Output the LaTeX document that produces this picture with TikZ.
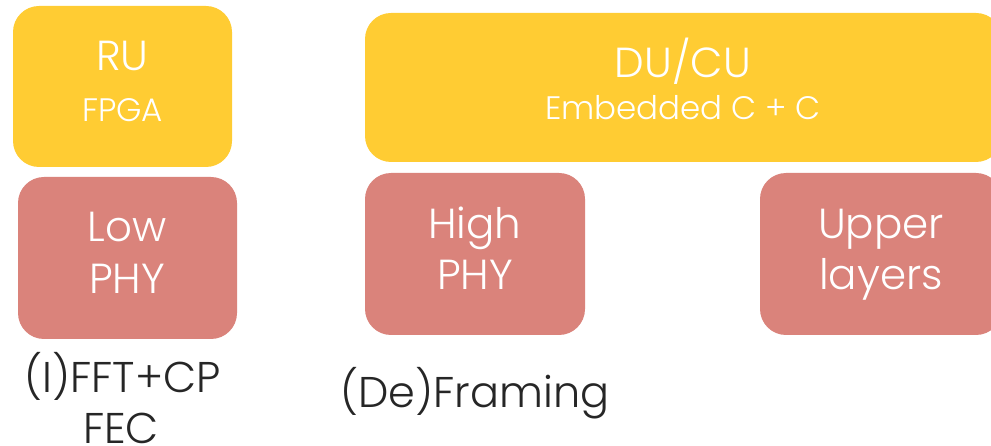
\documentclass[tikz,border=0pt]{standalone}
\usepackage{fontspec}
\setmainfont{Poppins Light}
\definecolor{boxyellow}{RGB}{255,204,51}
\definecolor{boxred}{RGB}{218,131,123}
\definecolor{txtdark}{RGB}{38,38,38}
\begin{document}
\begin{tikzpicture}[x=1pt,y=-1pt,
  ybox/.style={fill=boxyellow,draw=none,rounded corners=26pt},
  rbox/.style={fill=boxred,draw=none,rounded corners=26pt},
  wbig/.style={text=white,font=\fontsize{42}{42}\selectfont,anchor=base,inner sep=0pt},
  wsmall/.style={text=white,font=\fontsize{32.5}{32.5}\selectfont,anchor=base,inner sep=0pt},
  dtext/.style={text=txtdark,font=\fontsize{43}{43}\selectfont,anchor=base,inner sep=0pt}]
\clip (0,0) rectangle (991,446);
\useasboundingbox (0,0) rectangle (991,446);
% boxes
\path[ybox] (13,6) rectangle (232,167) node[midway] (ru) {};
\path[ybox] (365,13) rectangle (1002,162) node[midway] (ducu) {};
\path[rbox] (18,177) rectangle (237,339) node[midway] (low) {};
\path[rbox] (365,173) rectangle (585,335) node[midway] (high) {};
\path[rbox] (760,173) rectangle (1002,335) node[midway] (upper) {};
% texts
\node[wbig] (ru1) at (122.5,71) {RU};
\node[wsmall] (ru2) at (122.5,122) {FPGA};
\node[wbig] (du1) at (683,78) {DU/CU};
\node[wsmall] (du2) at (683,120) {Embedded C + C};
\node[wbig] (low1) at (127,242) {Low};
\node[wbig] (low2) at (127,294) {PHY};
\node[wbig] (high1) at (475,239) {High};
\node[wbig] (high2) at (475,290) {PHY};
\node[wbig] (up1) at (881,239) {Upper};
\node[wbig] (up2) at (881,290) {layers};
\node[dtext] (fft) at (122.5,392) {(I)FFT+CP};
\node[dtext] (fec) at (121,443) {FEC};
\node[dtext] (fram) at (475,407) {(De)Framing};
\end{tikzpicture}
\end{document}
